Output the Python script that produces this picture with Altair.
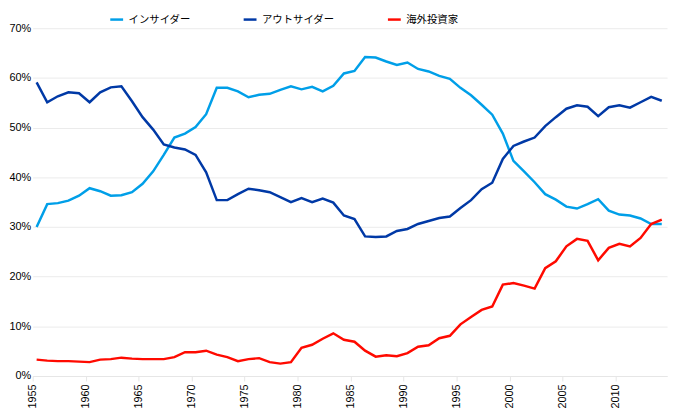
import altair as alt
import pandas as pd

years = list(range(1955, 2015))

insider = [30.0, 34.6, 34.8, 35.3, 36.3, 37.8, 37.2, 36.3, 36.4, 37.0,
           38.7, 41.2, 44.5, 48.0, 48.8, 50.1, 52.7, 58.0, 58.0, 57.3,
           56.1, 56.6, 56.8, 57.6, 58.3, 57.7, 58.2, 57.3, 58.4, 60.9,
           61.4, 64.2, 64.1, 63.3, 62.6, 63.1, 61.8, 61.3, 60.4, 59.8,
           58.0, 56.5, 54.6, 52.6, 48.8, 43.3, 41.2, 39.0, 36.6, 35.5,
           34.1, 33.7, 34.6, 35.6, 33.3, 32.5, 32.3, 31.7, 30.6, 30.6]

outsider = [59.1, 55.1, 56.3, 57.1, 56.9, 55.1, 57.1, 58.1, 58.3, 55.3,
            52.1, 49.6, 46.6, 46.0, 45.6, 44.5, 41.0, 35.4, 35.4, 36.6,
            37.7, 37.4, 37.0, 36.0, 35.0, 35.8, 35.0, 35.7, 34.9, 32.3,
            31.6, 28.1, 28.0, 28.1, 29.2, 29.6, 30.6, 31.2, 31.8, 32.1,
            33.8, 35.4, 37.6, 38.9, 43.7, 46.3, 47.2, 48.0, 50.3, 52.1,
            53.8, 54.5, 54.2, 52.3, 54.1, 54.5, 54.0, 55.1, 56.2, 55.4]

foreign = [3.3, 3.1, 3.0, 3.0, 2.9, 2.8, 3.3, 3.4, 3.7, 3.5,
           3.4, 3.4, 3.4, 3.8, 4.8, 4.8, 5.1, 4.3, 3.8, 3.0,
           3.4, 3.6, 2.8, 2.5, 2.8, 5.7, 6.3, 7.5, 8.6, 7.3,
           6.9, 5.1, 3.9, 4.2, 4.0, 4.6, 5.9, 6.2, 7.6, 8.1,
           10.4, 11.9, 13.3, 14.0, 18.4, 18.7, 18.2, 17.6, 21.7, 23.1,
           26.1, 27.6, 27.2, 23.3, 25.8, 26.6, 26.1, 27.8, 30.6, 31.5]

series_names = ["インサイダー", "アウトサイダー", "海外投資家"]
series_colors = ["#009FE8", "#0039A6", "#FF0A00"]
x_ticks = [1955, 1960, 1965, 1970, 1975, 1980, 1985, 1990, 1995, 2000, 2005, 2010]
y_ticks = [0, 0.1, 0.2, 0.3, 0.4, 0.5, 0.6, 0.7]

rows = []
for name, vals in zip(series_names, [insider, outsider, foreign]):
    for y, v in zip(years, vals):
        rows.append({"year": y, "series": name, "value": v / 100.0})
df = pd.DataFrame(rows)

chart = alt.Chart(df).mark_line(strokeWidth=2.5).encode(
    x=alt.X("year:Q",
            scale=alt.Scale(domain=[1954.63, 2014.5], nice=False, zero=False),
            axis=alt.Axis(values=x_ticks, format="d", labelAngle=-90, title=None,
                          grid=False, domainColor="#e6e6e6", tickColor="#e6e6e6",
                          tickSize=5, tickOffset=-4, labelFontSize=11,
                          labelFont="Liberation Sans", labelColor="#000000",
                          labelPadding=3, labelAlign="right", labelBaseline="middle")),
    y=alt.Y("value:Q",
            scale=alt.Scale(domain=[0, 0.7], nice=False),
            axis=alt.Axis(values=y_ticks, format=".0%", title=None, domain=False,
                          ticks=False, gridColor="#ebebeb", gridWidth=1,
                          labelFontSize=11, labelFont="Liberation Sans",
                          labelColor="#000000", labelPadding=2)),
    color=alt.Color("series:N",
                    scale=alt.Scale(domain=series_names, range=series_colors),
                    sort=series_names,
                    legend=alt.Legend(title=None, orient="none", direction="horizontal",
                                      legendX=77, legendY=-17,
                                      symbolType="stroke", symbolSize=169,
                                      symbolStrokeWidth=2.5, labelFontSize=10.5,
                                      labelFont="Noto Sans CJK JP", labelColor="#000000",
                                      labelOffset=4, columnPadding=48)),
).properties(
    width=642,
    height=352,
    autosize=alt.AutoSizeParams(type="none"),
    padding={"left": 25, "top": 18, "right": 5, "bottom": 39},
).configure_view(stroke=None)

chart.save("out.html", embed_options={"renderer": "svg", "actions": False})
